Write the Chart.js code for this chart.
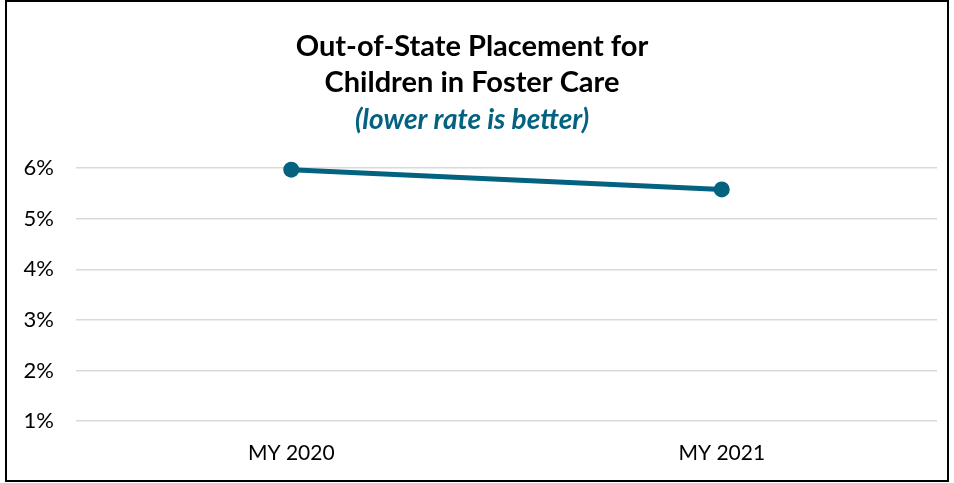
<!DOCTYPE html>
<html>
<head>
<meta charset="utf-8">
<script src="https://cdn.jsdelivr.net/npm/chart.js@4"></script>
<style>
    html, body { margin: 0; padding: 0; background: #fff; }
    #frame {
        position: absolute;
        left: 5px; top: 0;
        width: 940px; height: 478px;
        border: 2px solid #000;
    }
</style>
</head>
<body>
<div id="frame"><canvas id="lineChart" width="940" height="478"></canvas></div>
<script>
// 数据
const categories = ['MY 2020', 'MY 2021']
const rates      = [5.97, 5.58]
const yTicks     = [1, 2, 3, 4, 5, 6]

const TEAL = '#03627f'
const FONT = 'Lato, "Open Sans", sans-serif'

new Chart(document.getElementById('lineChart'), {
    type: 'line',
    data: {
        labels: categories,
        datasets: [{
            data: rates,
            borderColor: TEAL,
            backgroundColor: TEAL,
            borderWidth: 5,
            pointRadius: 8,
            pointBackgroundColor: TEAL,
            pointBorderWidth: 0,
            tension: 0,
            clip: false,
        }]
    },
    options: {
        responsive: false,
        animation: false,
        layout: { padding: { left: 0, right: 10, top: 0, bottom: 0 } },
        plugins: {
            legend: { display: false },
            tooltip: { enabled: false },
            title: {
                display: true,
                text: ['Out-of-State Placement for', 'Children in Foster Care'],
                color: '#000',
                font: { family: FONT, size: 29, weight: 'bold', lineHeight: 1.24 },
                padding: { top: 27, bottom: 4 },
            },
            subtitle: {
                display: true,
                text: '(lower rate is better)',
                color: TEAL,
                font: { family: FONT, size: 28, weight: 'bold', style: 'italic', lineHeight: 1.08 },
                padding: { top: 0, bottom: 33 },
            }
        },
        scales: {
            x: {
                offset: true,
                grid: { display: false, drawTicks: false },
                border: { display: false },
                ticks: { color: '#000', font: { family: FONT, size: 21 }, padding: 20 },
                afterFit: s => { s.height = 59 },
            },
            y: {
                min: 1,
                max: 6,
                afterBuildTicks: s => { s.ticks = yTicks.map(v => ({ value: v })) },
                grid: { color: '#d9d9d9', lineWidth: 1.5, drawTicks: false },
                border: { display: false },
                ticks: {
                    color: '#000',
                    font: { family: FONT, size: 22 },
                    padding: 22,
                    callback: v => v + '%',
                },
                afterFit: s => { s.width = 69 },
            }
        }
    }
})
</script>
</body>
</html>
